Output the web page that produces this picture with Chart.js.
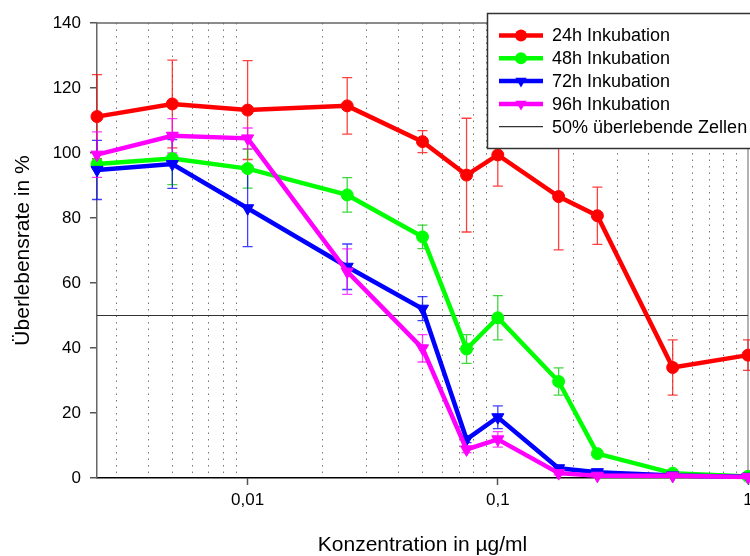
<!DOCTYPE html>
<html lang="de">
<head>
<meta charset="utf-8">
<title>Überlebensrate</title>
<script src="https://cdn.jsdelivr.net/npm/chart.js@4.4.1/dist/chart.umd.min.js"></script>
<style>
  html, body { margin: 0; padding: 0; background: #fff; }
  #frame { width: 750px; height: 556px; overflow: hidden; position: relative; }
  #frame canvas { display: block; }
</style>
</head>
<body>
<div id="frame"><canvas id="survival" width="770" height="556"></canvas></div>
<script>
'use strict';

// concentration steps (µg/ml)
const concentrations = [0.0025, 0.005, 0.01, 0.025, 0.05, 0.075, 0.1, 0.175, 0.25, 0.5, 1];

// survival in % and standard deviation per incubation time
const inc24    = [111.2, 115.1, 113.2, 114.5, 103.5, 93.2, 99.4, 86.6, 80.7, 34.0, 37.8];
const inc24Err = [12.9, 13.5, 15.2, 8.7, 3.4, 17.5, 9.6, 16.4, 8.8, 8.5, 4.7];
const inc48    = [96.6, 98.3, 95.2, 87.1, 74.2, 39.7, 49.3, 29.7, 7.5, 1.5, 0.5];
const inc48Err = [1.5, 8.0, 6.0, 5.3, 3.6, 4.4, 6.8, 4.2, 0.5, 0.3, 0.2];
const inc72    = [94.8, 96.6, 83.0, 65.0, 52.1, 11.9, 18.7, 3.0, 1.8, 0.8, 0.4];
const inc72Err = [9.1, 7.5, 11.8, 7.0, 3.7, 1.0, 3.5, 0.5, 0.3, 0.2, 0.1];
const inc96    = [99.5, 105.3, 104.5, 63.5, 39.9, 8.8, 11.9, 1.5, 0.7, 0.7, 0.3];
const inc96Err = [7.0, 5.3, 3.2, 7.0, 4.2, 1.0, 2.4, 0.5, 0.3, 0.2, 0.1];

const seriesNames = ['24h Inkubation', '48h Inkubation', '72h Inkubation', '96h Inkubation'];
const thresholdName = '50% überlebende Zellen';
const thresholdValue = 50;

// axis ticks
const yTicks = [0, 20, 40, 60, 80, 100, 120, 140];
const xMinorTicks = [0.003, 0.004, 0.005, 0.006, 0.007, 0.008, 0.009,
                     0.02, 0.03, 0.04, 0.05, 0.06, 0.07, 0.08, 0.09,
                     0.2, 0.3, 0.4, 0.5, 0.6, 0.7, 0.8, 0.9];
const xMajorTicks  = [0.01, 0.1, 1];
const xMajorLabels = ['0,01', '0,1', '1'];

const FONT = "'Liberation Sans', Arial, Helvetica, sans-serif";
const colors    = ['#ff0000', '#00ff00', '#0000ff', '#ff00ff'];
const errColors = ['rgba(255,0,0,0.75)', 'rgba(0,200,0,0.75)', 'rgba(0,0,255,0.75)', 'rgba(255,0,255,0.75)'];
const errors    = [inc24Err, inc48Err, inc72Err, inc96Err];

const majorIndex = v => xMajorTicks.findIndex(m => Math.abs(Math.log10(v) - Math.log10(m)) < 1e-6);

const toPoints = vals => concentrations.map((c, i) => ({ x: c, y: vals[i] }));

function series(i, vals, shape) {
  return {
    label: seriesNames[i],
    data: toPoints(vals),
    borderColor: colors[i],
    backgroundColor: colors[i],
    pointBackgroundColor: colors[i],
    pointBorderColor: colors[i],
    borderWidth: 4.5,
    pointStyle: shape,
    pointRotation: shape === 'triangle' ? 180 : 0,
    pointRadius: shape === 'triangle' ? 7 : 6,
    pointBorderWidth: 1,
    tension: 0,
    clip: false,
    order: 4 - i
  };
}

// ── error bars, drawn underneath the lines ───────────
const errorBars = {
  id: 'errorBars',
  beforeDatasetsDraw(chart) {
    const { ctx, scales: { x, y } } = chart;
    ctx.save();
    ctx.lineWidth = 1.3;
    errors.forEach((errs, i) => {
      ctx.strokeStyle = errColors[i];
      chart.data.datasets[i].data.forEach((pt, j) => {
        const px = x.getPixelForValue(pt.x);
        const top = y.getPixelForValue(pt.y + errs[j]);
        const bot = y.getPixelForValue(pt.y - errs[j]);
        ctx.beginPath();
        ctx.moveTo(px, top); ctx.lineTo(px, bot);
        ctx.moveTo(px - 5, top); ctx.lineTo(px + 5, top);
        ctx.moveTo(px - 5, bot); ctx.lineTo(px + 5, bot);
        ctx.stroke();
      });
    });
    ctx.restore();
  }
};

// ── top and right frame lines ────────────────────────
const frame = {
  id: 'frame',
  beforeDatasetsDraw(chart) {
    const { ctx, chartArea: a } = chart;
    ctx.save();
    ctx.strokeStyle = '#666';
    ctx.lineWidth = 1.5;
    ctx.beginPath();
    ctx.moveTo(a.left, a.top); ctx.lineTo(a.right, a.top);
    ctx.stroke();
    ctx.lineWidth = 1;
    ctx.beginPath();
    ctx.moveTo(a.right, a.top); ctx.lineTo(a.right, a.bottom);
    ctx.stroke();
    ctx.restore();
  }
};

// ── boxed legend in the upper right corner ───────────
function marker(ctx, shape, x, y, r, color) {
  ctx.fillStyle = color;
  ctx.beginPath();
  if (shape === 'circle') {
    ctx.arc(x, y, r, 0, Math.PI * 2);
  } else {
    ctx.moveTo(x, y + r);
    ctx.lineTo(x - r * 0.866, y - r * 0.5);
    ctx.lineTo(x + r * 0.866, y - r * 0.5);
    ctx.closePath();
  }
  ctx.fill();
}

const boxLegend = {
  id: 'boxLegend',
  afterDraw(chart) {
    const { ctx } = chart;
    const bx = 487.5, by = 13.5, bw = 290, bh = 135;
    ctx.save();
    ctx.fillStyle = '#fff';
    ctx.fillRect(bx, by, bw, bh);
    ctx.strokeStyle = '#333';
    ctx.lineWidth = 1.5;
    ctx.strokeRect(bx, by, bw, bh);
    ctx.font = '18px ' + FONT;
    ctx.textBaseline = 'middle';
    chart.data.datasets.forEach((ds, i) => {
      const ry = 35.5 + i * 22.8;
      ctx.strokeStyle = ds.borderColor;
      ctx.lineWidth = i < 4 ? 4.5 : 1.2;
      ctx.beginPath();
      ctx.moveTo(499, ry); ctx.lineTo(543, ry);
      ctx.stroke();
      if (i < 4) marker(ctx, ds.pointStyle, 521, ry, ds.pointStyle === 'circle' ? 6 : 6.5, ds.borderColor);
      ctx.fillStyle = '#000';
      ctx.fillText(ds.label, 552, ry + 1);
    });
    ctx.restore();
  }
};

Chart.defaults.font.family = FONT;
Chart.defaults.color = '#000';

new Chart(document.getElementById('survival'), {
  type: 'line',
  data: {
    datasets: [
      series(0, inc24, 'circle'),
      series(1, inc48, 'circle'),
      series(2, inc72, 'triangle'),
      series(3, inc96, 'triangle'),
      {
        label: thresholdName,
        data: [{ x: concentrations[0], y: thresholdValue }, { x: concentrations[concentrations.length - 1], y: thresholdValue }],
        borderColor: '#333',
        borderWidth: 1.2,
        pointRadius: 0,
        order: 10
      }
    ]
  },
  options: {
    responsive: false,
    animation: false,
    layout: { padding: { top: 23, right: 22, left: 0, bottom: 0 } },
    plugins: { legend: { display: false }, tooltip: { enabled: false } },
    scales: {
      x: {
        type: 'logarithmic',
        min: 0.0025,
        max: 1,
        afterBuildTicks: s => { s.ticks = xMinorTicks.concat(xMajorTicks).sort((a, b) => a - b).map(v => ({ value: v })); },
        afterFit: s => { s.height = 78; },
        ticks: {
          autoSkip: false,
          maxRotation: 0,
          padding: 5,
          font: { size: 17 },
          callback: v => { const k = majorIndex(v); return k < 0 ? '' : xMajorLabels[k]; }
        },
        grid: {
          drawTicks: true,
          tickLength: 7,
          lineWidth: 1,
          tickWidth: 1.5,
          color: c => (c.tick && majorIndex(c.tick.value) < 0) ? '#777' : 'rgba(0,0,0,0)',
          tickColor: c => (c.tick && majorIndex(c.tick.value) >= 0) ? '#555' : 'rgba(0,0,0,0)'
        },
        border: { display: true, color: '#000', width: 1.5, dash: [1.5, 5] },
        title: {
          display: true,
          text: 'Konzentration in µg/ml',
          font: { size: 21, lineHeight: 1.0 },
          padding: { top: 0, bottom: 0 }
        }
      },
      y: {
        min: 0,
        max: 140,
        afterBuildTicks: s => { s.ticks = yTicks.map(v => ({ value: v })); },
        afterFit: s => { s.width = 97; },
        ticks: { padding: 9, font: { size: 17 } },
        grid: { drawOnChartArea: false, drawTicks: true, tickLength: 7, color: '#555', lineWidth: 1.5 },
        border: { display: true, color: '#666', width: 1.5 },
        title: {
          display: true,
          text: 'Überlebensrate in %',
          font: { size: 21 },
          padding: { top: 11, bottom: 0 }
        }
      }
    }
  },
  plugins: [frame, errorBars, boxLegend]
});
</script>
</body>
</html>
